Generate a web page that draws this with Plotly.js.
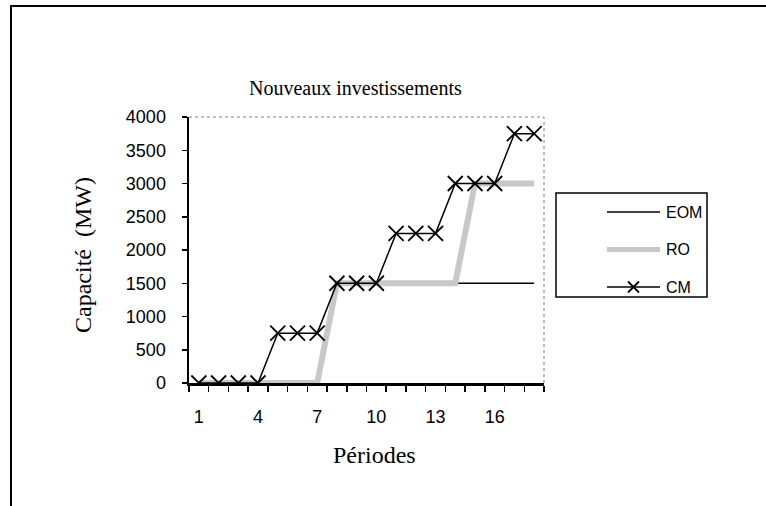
<!DOCTYPE html>
<html>
<head>
<meta charset="utf-8">
<script src="https://cdn.plot.ly/plotly-3.0.1.min.js"></script>
<style>html,body{margin:0;padding:0;background:#fff;}#chart{width:766px;height:506px;}</style>
</head>
<body>
<div id="chart"></div>
<script>
const periods = [1,2,3,4,5,6,7,8,9,10,11,12,13,14,15,16,17,18];
const eom = [0,0,0,0,0,0,0,1500,1500,1500,1500,1500,1500,1500,1500,1500,1500,1500];
const ro  = [0,0,0,0,0,0,0,1500,1500,1500,1500,1500,1500,1500,3000,3000,3000,3000];
const cm  = [0,0,0,0,750,750,750,1500,1500,1500,2250,2250,2250,3000,3000,3000,3750,3750];
const xTickVals = [1,4,7,10,13,16];
const xTickText = ['1','4','7','10','13','16'];
const seriesNames = ['EOM','RO','CM'];

const L = 189, R = 544, T = 117, B = 383, W = 766, H = 506;
const px = v => (v - L) / (R - L);
const py = v => (B - v) / (B - T);

const traces = [
  {x: periods, y: eom, name: seriesNames[0], mode: 'lines', line: {color: '#000', width: 1.5}, showlegend: false},
  {x: periods, y: ro, name: seriesNames[1], mode: 'lines', line: {color: '#c8c8c8', width: 6}, showlegend: false},
  {x: periods, y: cm, name: seriesNames[2], mode: 'lines+markers', line: {color: '#000', width: 1.5},
   marker: {symbol: 'x-thin-open', size: 15, color: '#000', line: {color: '#000', width: 1.8}}, showlegend: false}
];

const legX0 = 556, legX1 = 707, legY0 = 193, legY1 = 297;
const legRows = [212, 249.5, 287];
const shapes = [
  {type: 'line', xref: 'paper', yref: 'paper', x0: px(11), x1: px(11), y0: py(5), y1: py(H + 5), line: {color: '#000', width: 2}},
  {type: 'line', xref: 'paper', yref: 'paper', x0: px(10), x1: px(W + 5), y0: py(6), y1: py(6), line: {color: '#000', width: 2}},
  {type: 'line', xref: 'paper', yref: 'paper', x0: 0, x1: 1, y0: 1, y1: 1, line: {color: '#808080', width: 1, dash: 'dot'}},
  {type: 'line', xref: 'paper', yref: 'paper', x0: 1, x1: 1, y0: 0, y1: 1, line: {color: '#808080', width: 1, dash: 'dot'}},
  {type: 'rect', xref: 'paper', yref: 'paper', x0: px(legX0), x1: px(legX1), y0: py(legY1), y1: py(legY0), line: {color: '#000', width: 1.5}, fillcolor: 'rgba(0,0,0,0)'},
  {type: 'line', xref: 'paper', yref: 'paper', x0: px(607), x1: px(660), y0: py(legRows[0]), y1: py(legRows[0]), line: {color: '#000', width: 1.5}},
  {type: 'line', xref: 'paper', yref: 'paper', x0: px(607), x1: px(660), y0: py(legRows[1]), y1: py(legRows[1]), line: {color: '#c8c8c8', width: 5}},
  {type: 'line', xref: 'paper', yref: 'paper', x0: px(607), x1: px(660), y0: py(legRows[2]), y1: py(legRows[2]), line: {color: '#000', width: 1.5}},
  {type: 'line', xref: 'paper', yref: 'paper', x0: px(628), x1: px(639), y0: py(legRows[2] - 5.5), y1: py(legRows[2] + 5.5), line: {color: '#000', width: 1.8}},
  {type: 'line', xref: 'paper', yref: 'paper', x0: px(628), x1: px(639), y0: py(legRows[2] + 5.5), y1: py(legRows[2] - 5.5), line: {color: '#000', width: 1.8}}
];

const serif = 'Liberation Serif, Times New Roman, serif';
const sans = 'Liberation Sans, Arial, sans-serif';
const annotations = [
  {text: 'Nouveaux investissements', xref: 'paper', yref: 'paper', x: px(355), y: py(88), xanchor: 'center', yanchor: 'middle', showarrow: false, font: {family: serif, size: 20, color: '#000'}},
  {text: 'Périodes', xref: 'paper', yref: 'paper', x: px(374), y: py(455), xanchor: 'center', yanchor: 'middle', showarrow: false, font: {family: serif, size: 24, color: '#000'}},
  {text: 'Capacité\u00a0 (MW)', xref: 'paper', yref: 'paper', x: px(83), y: py(255), xanchor: 'center', yanchor: 'middle', textangle: -90, showarrow: false, font: {family: serif, size: 24, color: '#000'}}
];
seriesNames.forEach((n, i) => annotations.push({
  text: n, xref: 'paper', yref: 'paper', x: px(664), y: py(legRows[i]), xanchor: 'left', yanchor: 'middle', showarrow: false,
  font: {family: sans, size: 16, color: '#000'}
}));

const layout = {
  width: W, height: H,
  margin: {l: L, r: W - R, t: T, b: H - B, pad: 0},
  paper_bgcolor: '#fff', plot_bgcolor: '#fff',
  showlegend: false,
  xaxis: {
    range: [0.5, 18.5], tickmode: 'array', tickvals: xTickVals, ticktext: xTickText,
    ticks: '', showgrid: false, zeroline: false,
    showline: true, linecolor: '#000', linewidth: 2.5,
    tickfont: {family: sans, size: 18, color: '#000'}, ticklabelstandoff: 16,
    minor: {tickmode: 'linear', tick0: 0.5, dtick: 1, ticks: 'outside', ticklen: 6, tickwidth: 1.5, tickcolor: '#000', showgrid: false},
    fixedrange: true
  },
  yaxis: {
    range: [0, 4000], dtick: 500, tick0: 0, ticks: 'outside', ticklen: 5, tickwidth: 1.5, tickcolor: '#000',
    showgrid: false, zeroline: false, showline: true, linecolor: '#000', linewidth: 2.5,
    tickfont: {family: sans, size: 18, color: '#000'}, ticklabelstandoff: 12,
    fixedrange: true
  },
  shapes: shapes,
  annotations: annotations
};

Plotly.newPlot('chart', traces, layout, {displayModeBar: false, staticPlot: true});
</script>
</body>
</html>
